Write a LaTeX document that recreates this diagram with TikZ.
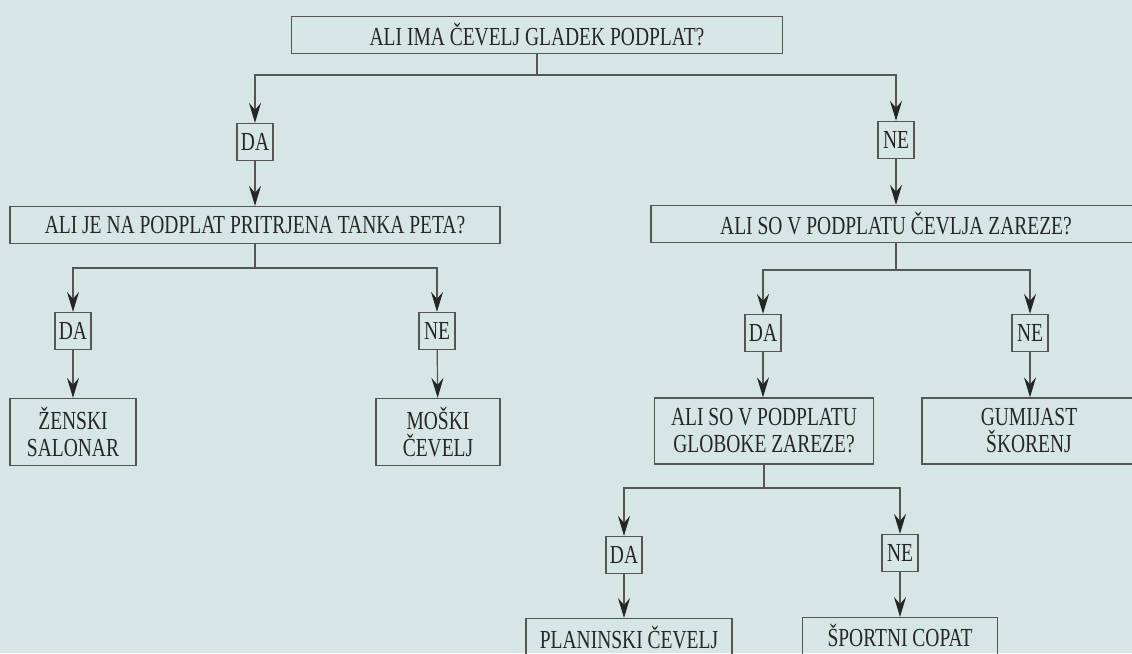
\documentclass[tikz,border=0pt]{standalone}
\usepackage{fontspec}
\setmainfont{Liberation Serif}[FakeStretch=0.75]
\definecolor{PaperColor}{RGB}{214,230,229}
\definecolor{LineColor}{RGB}{85,85,85}
\definecolor{InkColor}{RGB}{38,38,38}
\usepackage{tikz}
\usetikzlibrary{arrows.meta}
\usetikzlibrary{positioning}
\newcommand{\chartfont}{\fontsize{26}{27}\selectfont}
\tikzstyle{qbox} = [draw=LineColor, line width=1.3pt, text=InkColor, font=\chartfont, minimum height=37pt, inner sep=0pt, align=center]
\tikzstyle{ansbox} = [draw=LineColor, line width=1.3pt, text=InkColor, font=\chartfont, minimum width=36pt, minimum height=37pt, inner sep=0pt]
\tikzstyle{link} = [LineColor, line width=1.2pt]
\tikzstyle{arrow} = [link, -{Stealth[length=20pt, width=12pt, inset=7pt, color=InkColor]}]

\begin{document}
\begin{tikzpicture}[x=1pt, y=-1pt]
                \useasboundingbox (0,0) rectangle (1132,653);
                \fill[PaperColor] (0,0) rectangle (1132,653);
                \clip (0,0) rectangle (1132,653);

                % first question
                \node[qbox, minimum width=491pt] (gladek) at (537,35) {ALI IMA ČEVELJ GLADEK PODPLAT?};
                \coordinate (split1) at (537,75);
                \node[ansbox] (da1) at (255,142) {DA};
                \node[ansbox] (ne1) at (896,140) {NE};

                % left branch
                \node[qbox, minimum width=490pt] (peta) at (255,225) {ALI JE NA PODPLAT PRITRJENA TANKA PETA?};
                \coordinate (split2) at (255,268);
                \node[ansbox] (da2) at (73,331) {DA};
                \node[ansbox] (ne2) at (437,331) {NE};
                \node[qbox, minimum width=126pt, minimum height=67pt] (zenski) at (73,432) {ŽENSKI\\SALONAR};
                \node[qbox, minimum width=124pt, minimum height=67pt] (moski) at (438,432) {MOŠKI\\ČEVELJ};

                % right branch
                \node[qbox, minimum width=490pt] (zareze) at (896,224) {ALI SO V PODPLATU ČEVLJA ZAREZE?};
                \coordinate (split3) at (896,270);
                \node[ansbox] (da3) at (763,333) {DA};
                \node[ansbox] (ne3) at (1030,333) {NE};
                \node[qbox, minimum width=219pt, minimum height=66pt] (globoke) at (764,431) {ALI SO V PODPLATU\\GLOBOKE ZAREZE?};
                \node[qbox, minimum width=214pt, minimum height=66pt] (gumijast) at (1029,431) {GUMIJAST\\ŠKORENJ};

                % deep notches
                \coordinate (split4) at (764,488);
                \node[ansbox] (da4) at (624,555) {DA};
                \node[ansbox] (ne4) at (900,553) {NE};
                \node[qbox, anchor=north, minimum width=206pt, text height=30pt, text depth=20pt] (planinski) at (629,618) {PLANINSKI ČEVELJ};
                \node[qbox, anchor=north, minimum width=195pt, text height=29pt, text depth=20pt] (sportni) at (900,617) {ŠPORTNI COPAT};

                \draw[link] (gladek) -- (split1);
                \draw[arrow] (split1) -| (da1);
                \draw[arrow] (split1) -| (ne1);
                \draw[arrow] (da1) -- (peta);
                \draw[arrow] (ne1) -- (zareze);

                \draw[link] (peta) -- (split2);
                \draw[arrow] (split2) -| (da2);
                \draw[arrow] (split2) -| (ne2);
                \draw[arrow] (da2) -- (zenski);
                \draw[arrow] (ne2) -- (moski);

                \draw[link] (zareze) -- (split3);
                \draw[arrow] (split3) -| (da3);
                \draw[arrow] (split3) -| (ne3);
                \draw[arrow] (da3) -- (da3 |- globoke.north);
                \draw[arrow] (ne3) -- (ne3 |- gumijast.north);

                \draw[link] (globoke) -- (split4);
                \draw[arrow] (split4) -| (da4);
                \draw[arrow] (split4) -| (ne4);
                \draw[arrow] (da4) -- (da4 |- planinski.north);
                \draw[arrow] (ne4) -- (ne4 |- sportni.north);
            \end{tikzpicture}
\end{document}
